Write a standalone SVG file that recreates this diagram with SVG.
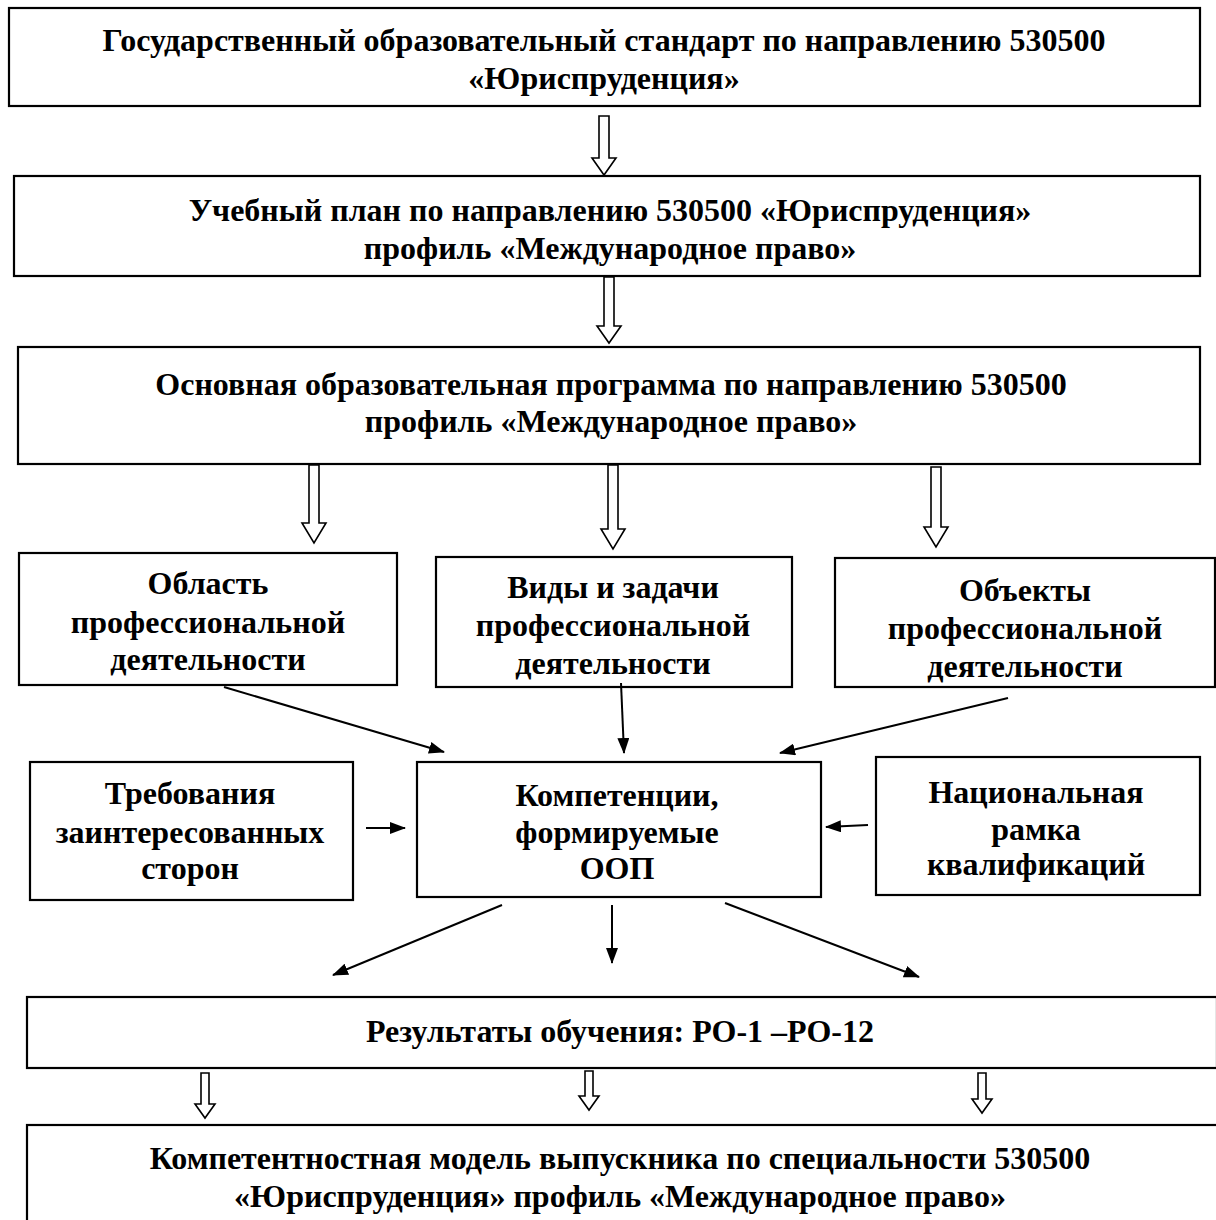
<svg xmlns="http://www.w3.org/2000/svg" width="1216" height="1220" viewBox="0 0 1216 1220">
<style>
.box{fill:#fff;stroke:#000;stroke-width:2.2}
.t{font-family:"Liberation Serif","Times New Roman",serif;font-weight:bold;font-size:32px;text-anchor:middle;fill:#000}
.ha{fill:#fff;stroke:#000;stroke-width:1.6;stroke-linejoin:miter}
.ln{stroke:#000;stroke-width:2;fill:none}
</style>
<defs>
<marker id="ah" markerWidth="16" markerHeight="12" refX="15" refY="6" orient="auto" markerUnits="userSpaceOnUse">
<path d="M0,0 L16,6 L0,12 Z" fill="#000"/>
</marker>
</defs>
<rect width="1216" height="1220" fill="#fff"/>
<g id="n1"><rect class="box" x="9" y="8" width="1191" height="98"/>
<text class="t" x="604" y="51">Государственный образовательный стандарт по направлению 530500</text>
<text class="t" x="604" y="89">«Юриспруденция»</text></g>
<g id="n2"><rect class="box" x="14" y="176" width="1186" height="100"/>
<text class="t" x="610" y="221">Учебный план по направлению 530500 «Юриспруденция»</text>
<text class="t" x="610" y="259">профиль «Международное право»</text></g>
<g id="n3"><rect class="box" x="18" y="347" width="1182" height="117"/>
<text class="t" x="611" y="395">Основная образовательная программа по направлению 530500</text>
<text class="t" x="611" y="432">профиль «Международное право»</text></g>
<g id="n4"><rect class="box" x="19" y="553" width="378" height="132"/>
<text class="t" x="208" y="594">Область</text>
<text class="t" x="208" y="633">профессиональной</text>
<text class="t" x="208" y="670">деятельности</text></g>
<g id="n5"><rect class="box" x="436" y="557" width="356" height="130"/>
<text class="t" x="613" y="598">Виды и задачи</text>
<text class="t" x="613" y="636">профессиональной</text>
<text class="t" x="613" y="674">деятельности</text></g>
<g id="n6"><rect class="box" x="835" y="558" width="380" height="129"/>
<text class="t" x="1025" y="601">Объекты</text>
<text class="t" x="1025" y="639">профессиональной</text>
<text class="t" x="1025" y="677">деятельности</text></g>
<g id="n7"><rect class="box" x="30" y="762" width="323" height="138"/>
<text class="t" x="190" y="804">Требования</text>
<text class="t" x="190" y="843">заинтересованных</text>
<text class="t" x="190" y="879">сторон</text></g>
<g id="n8"><rect class="box" x="417" y="762" width="404" height="135"/>
<text class="t" x="617" y="806">Компетенции,</text>
<text class="t" x="617" y="843">формируемые</text>
<text class="t" x="617" y="879">ООП</text></g>
<g id="n9"><rect class="box" x="876" y="757" width="324" height="138"/>
<text class="t" x="1036" y="803">Национальная</text>
<text class="t" x="1036" y="840">рамка</text>
<text class="t" x="1036" y="875">квалификаций</text></g>
<g id="n10"><rect class="box" x="27" y="997" width="1190" height="71"/>
<text class="t" x="620" y="1042">Результаты обучения: РО-1 –РО-12</text></g>
<g id="n11"><rect class="box" x="27" y="1125" width="1195" height="100"/>
<text class="t" x="620" y="1169">Компетентностная модель выпускника по специальности 530500</text>
<text class="t" x="620" y="1207">«Юриспруденция» профиль «Международное право»</text></g>
<g id="connectors">
<polygon class="ha" points="599,116 609,116 609,158 616,158 604,175 592,158 599,158"/>
<polygon class="ha" points="604,277 614,277 614,326 621,326 609,343 597,326 604,326"/>
<polygon class="ha" points="309,465 319,465 319,523 326,523 314,543 302,523 309,523"/>
<polygon class="ha" points="608,465 618,465 618,529 625,529 613,549 601,529 608,529"/>
<polygon class="ha" points="931,467 941,467 941,527 948,527 936,547 924,527 931,527"/>
<polygon class="ha" points="201,1073 209,1073 209,1104 215,1104 205,1118 195,1104 201,1104"/>
<polygon class="ha" points="585,1071 593,1071 593,1096 599,1096 589,1110 579,1096 585,1096"/>
<polygon class="ha" points="978,1073 986,1073 986,1099 992,1099 982,1113 972,1099 978,1099"/>
<line class="ln" x1="224" y1="687" x2="444" y2="752" marker-end="url(#ah)"/>
<line class="ln" x1="621" y1="683" x2="624" y2="753" marker-end="url(#ah)"/>
<line class="ln" x1="1008" y1="698" x2="780" y2="753" marker-end="url(#ah)"/>
<line class="ln" x1="366" y1="828" x2="405" y2="828" marker-end="url(#ah)"/>
<line class="ln" x1="868" y1="825" x2="826" y2="827" marker-end="url(#ah)"/>
<line class="ln" x1="502" y1="905" x2="333" y2="975" marker-end="url(#ah)"/>
<line class="ln" x1="612" y1="905" x2="612" y2="963" marker-end="url(#ah)"/>
<line class="ln" x1="725" y1="903" x2="919" y2="977" marker-end="url(#ah)"/>
</g>
</svg>
